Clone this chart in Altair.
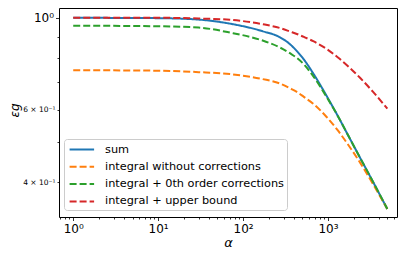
import altair as alt
import pandas as pd

alpha = [1, 10, 30, 70, 170, 270, 360, 430, 520, 670, 970, 1300, 1770, 2400, 3400, 5000]
sum_vals = [1.0, 0.998, 0.99, 0.968, 0.928, 0.898, 0.862, 0.831, 0.793, 0.734, 0.646, 0.580, 0.515, 0.458, 0.401, 0.345]
no_corr = [0.747, 0.745, 0.739, 0.731, 0.711, 0.694, 0.675, 0.662, 0.644, 0.620, 0.575, 0.535, 0.490, 0.446, 0.396, 0.345]
zeroth = [0.957, 0.954, 0.947, 0.921, 0.881, 0.848, 0.820, 0.800, 0.772, 0.723, 0.642, 0.580, 0.515, 0.458, 0.401, 0.345]
upper = [1.0, 1.0, 0.996, 0.989, 0.965, 0.945, 0.926, 0.914, 0.899, 0.878, 0.840, 0.803, 0.760, 0.715, 0.662, 0.603]

series_names = ["sum", "integral without corrections",
                "integral + 0th order corrections", "integral + upper bound"]
colors = ["#1f77b4", "#ff7f0e", "#2ca02c", "#d62728"]
dashes = [[1, 0], [7, 3], [7, 3], [7, 3]]

x_major = [1, 10, 100, 1000]
x_major_labels = ["10⁰", "10¹", "10²", "10³"]
x_minor = [0.7, 0.8, 0.9] + [m * d for d in [1, 10, 100, 1000] for m in range(2, 10) if m * d <= 6500]
y_major = [1]
y_major_labels = ["10⁰"]
y_minor = [0.4, 0.5, 0.6, 0.7, 0.8, 0.9]
y_minor_labels = {0.4: "4 × 10⁻¹", 0.6: "6 × 10⁻¹"}

rows = []
for name, vals in zip(series_names, [sum_vals, no_corr, zeroth, upper]):
    for a, v in zip(alpha, vals):
        rows.append({"alpha": a, "eps": v, "series": name})
df = pd.DataFrame(rows)

xs = alt.Scale(type="log", domain=[0.68, 6500], nice=False)
ys = alt.Scale(type="log", domain=[0.33, 1.056], nice=False)

x_major_expr = " : ".join(
    [f"datum.value == {v} ? '{l}'" for v, l in zip(x_major[:-1], x_major_labels[:-1])]
    + [f"'{x_major_labels[-1]}'"])
y_minor_expr = " : ".join(
    [f"abs(datum.value - {v}) < 1e-6 ? '{l}'" for v, l in y_minor_labels.items()] + ["''"])

leg = alt.Legend(title=None, orient="none", legendX=5, legendY=131,
                 symbolType="M-0.8,0H3.2", symbolSize=150, symbolStrokeWidth=2,
                 labelFontSize=11.3, labelFont="DejaVu Sans", labelColor="black",
                 labelLimit=300, fillColor="white", strokeColor="#cccccc",
                 cornerRadius=3, padding=3, rowPadding=4.3, labelOffset=23)

lines = alt.Chart(df).mark_line(strokeWidth=2, interpolate="monotone").encode(
    x=alt.X("alpha:Q", scale=xs,
            axis=alt.Axis(orient="bottom", values=x_major, labelExpr=x_major_expr,
                          tickSize=3.5, labelFontSize=12, labelPadding=3,
                          title="α", titleFontSize=13, titleFontStyle="italic",
                          titleFontWeight="normal", titlePadding=2)),
    y=alt.Y("eps:Q", scale=ys,
            axis=alt.Axis(orient="left", values=y_major, labelExpr=f"'{y_major_labels[0]}'",
                          tickSize=3.5, labelFontSize=12, labelPadding=2,
                          title="εg", titleFontSize=12, titleFontStyle="italic",
                          titleFontWeight="normal", titleX=-38, titleY=102)),
    color=alt.Color("series:N", scale=alt.Scale(domain=series_names, range=colors), legend=leg),
    strokeDash=alt.StrokeDash("series:N", scale=alt.Scale(domain=series_names, range=dashes), legend=leg),
)

minor = alt.Chart(df).mark_line(opacity=0).encode(
    x=alt.X("alpha:Q", scale=xs,
            axis=alt.Axis(orient="bottom", values=x_minor, labels=False, tickSize=2, title=None)),
    y=alt.Y("eps:Q", scale=ys,
            axis=alt.Axis(orient="left", values=y_minor, labelExpr=y_minor_expr,
                          tickSize=2, labelFontSize=7.5, labelPadding=2, title=None)),
)

chart = alt.layer(minor, lines).resolve_axis(x="independent", y="independent").properties(
    width=338, height=209,
    padding={"left": 51, "top": 0, "right": 2, "bottom": 33},
    autosize=alt.AutoSizeParams(type="none"),
).configure_axis(
    grid=False, domain=False, tickColor="black", labelColor="black", titleColor="black",
    labelFont="DejaVu Sans", titleFont="DejaVu Sans", tickWidth=0.8,
).configure_view(stroke="black", strokeWidth=1)

chart.save("out.html", embed_options={"renderer": "svg", "actions": False})
